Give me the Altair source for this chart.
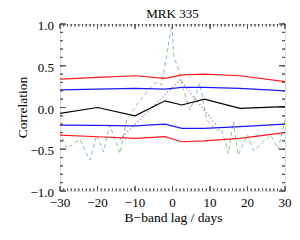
import altair as alt
import pandas as pd

# ---- data ----
env_lags = [-30, -20, -10, -2, 2.5, 8.5, 18, 30]
red_upper = [0.34, 0.36, 0.38, 0.35, 0.39, 0.40, 0.38, 0.31]
blue_upper = [0.21, 0.22, 0.23, 0.22, 0.24, 0.24, 0.23, 0.20]
blue_lower = [-0.21, -0.215, -0.22, -0.20, -0.25, -0.25, -0.23, -0.20]
red_lower = [-0.33, -0.35, -0.37, -0.35, -0.41, -0.40, -0.37, -0.30]
black_ccf = [-0.07, 0.0, -0.10, 0.08, 0.03, 0.10, -0.01, 0.01]

green_lags = [-30, -28.2, -24.7, -22, -20.2, -18.4, -16.7, -14, -12.2, -9.1,
              -6.4, -4.5, -2.9, -0.2, 0.4, 1.5, 2.9, 4.7, 7.3, 9.1,
              11.8, 13, 14.9, 16.2, 17.5, 20, 21.7, 26.2, 28.2, 30]
green_vals = [-0.29, -0.49, -0.38, -0.63, -0.33, -0.53, -0.21, -0.55, -0.15, 0.06,
              0.21, 0.30, 0.27, 0.99, 0.60, 0.47, 0.21, -0.03, 0.29, -0.15,
              -0.28, -0.25, -0.55, -0.17, -0.57, -0.33, -0.52, -0.33, -0.50, -0.15]

purple_lags = [-14, 2, 11.5]
purple_vals = [-0.38, 0.33, -0.20]

x_major = [-30, -20, -10, 0, 10, 20, 30]
x_minor = list(range(-30, 31))
y_major = [-1.0, -0.5, 0.0, 0.5, 1.0]
y_minor = [round(-1 + 0.1 * i, 1) for i in range(21)]

title_text = "MRK 335"
x_title = "B\u2212band lag / days"
y_title = "Correlation"

W, H = 225, 167
FONT = "Liberation Serif"
AX = "#555555"

xs = alt.Scale(domain=[-30, 30], nice=False, zero=False)
ys = alt.Scale(domain=[-1, 1], nice=False, zero=False)


def df(lags, vals):
    return pd.DataFrame({"lag": lags, "val": vals})


series = [
    (df(green_lags, green_vals), "#8fc48f", 1.0, [4, 3]),
    (df(purple_lags, purple_vals), "#b050c8", 1.3, [1, 2.5]),
    (df(env_lags, red_upper), "#ff1a1a", 1.2, None),
    (df(env_lags, red_lower), "#ff1a1a", 1.2, None),
    (df(env_lags, blue_upper), "#1a1aff", 1.2, None),
    (df(env_lags, blue_lower), "#1a1aff", 1.2, None),
    (df(env_lags, black_ccf), "#000000", 1.2, None),
]

layers = []
for d, color, w, dash in series:
    mark_kw = dict(color=color, strokeWidth=w, clip=True)
    if dash:
        mark_kw["strokeDash"] = dash
    layers.append(
        alt.Chart(d).mark_line(**mark_kw).encode(
            x=alt.X("lag:Q", scale=xs, axis=None),
            y=alt.Y("val:Q", scale=ys, axis=None),
        )
    )

xmaj = pd.DataFrame({"v": x_major})
xmin = pd.DataFrame({"v": x_minor})
ymaj = pd.DataFrame({"v": y_major})
ymin = pd.DataFrame({"v": y_minor})

# inward IDL-style ticks on all four sides (rules, placed through the scales)
tick_rule = dict(color=AX, strokeWidth=1, opacity=1)
for tdf, ln in [(xmaj, 5), (xmin, 2.5)]:
    layers.append(alt.Chart(tdf).mark_rule(**tick_rule).encode(
        x=alt.X("v:Q", scale=xs, axis=None),
        y=alt.value(H), y2=alt.value(H - ln)))
    layers.append(alt.Chart(tdf).mark_rule(**tick_rule).encode(
        x=alt.X("v:Q", scale=xs, axis=None),
        y=alt.value(0), y2=alt.value(ln)))
for tdf, ln in [(ymaj, 6), (ymin, 3)]:
    layers.append(alt.Chart(tdf).mark_rule(**tick_rule).encode(
        y=alt.Y("v:Q", scale=ys, axis=None),
        x=alt.value(0), x2=alt.value(ln)))
    layers.append(alt.Chart(tdf).mark_rule(**tick_rule).encode(
        y=alt.Y("v:Q", scale=ys, axis=None),
        x=alt.value(W), x2=alt.value(W - ln)))

# the same ticks again as stroked path symbols anchored on the frame edges
def tick_pts(tdf, horizontal, edge, path, size):
    mk = alt.Chart(tdf).mark_point(shape=path, size=size, filled=False,
                                   color=AX, strokeWidth=1, opacity=1)
    if horizontal:
        return mk.encode(x=alt.X("v:Q", scale=xs, axis=None),
                         y=alt.YDatum(edge, scale=ys, axis=None))
    return mk.encode(y=alt.Y("v:Q", scale=ys, axis=None),
                     x=alt.XDatum(edge, scale=xs, axis=None))


for tdf, sz in [(xmaj, 100), (xmin, 25)]:
    layers.append(tick_pts(tdf, True, -1.0, "M0,0L0,-1", sz))
    layers.append(tick_pts(tdf, True, 1.0, "M0,0L0,1", sz))
for tdf, sz in [(ymaj, 144), (ymin, 36)]:
    layers.append(tick_pts(tdf, False, -30, "M0,0L1,0", sz))
    layers.append(tick_pts(tdf, False, 30, "M0,0L-1,0", sz))

# tick labels placed through the scales
layers.append(alt.Chart(xmaj).mark_text(
    font=FONT, fontSize=13, color="black", align="center", baseline="alphabetic"
).encode(
    x=alt.X("v:Q", scale=xs, axis=None),
    y=alt.value(H + 16),
    text=alt.Text("v:Q", format="d"),
))
layers.append(alt.Chart(ymaj).mark_text(
    font=FONT, fontSize=13, color="black", align="right", baseline="middle", dy=2
).encode(
    y=alt.Y("v:Q", scale=ys, axis=None),
    x=alt.value(-6),
    text=alt.Text("v:Q", format=".1f"),
))

# titles
layers.append(alt.Chart(pd.DataFrame({"t": [title_text]})).mark_text(
    font=FONT, fontSize=13, color="black", align="center", baseline="alphabetic"
).encode(x=alt.value(W / 2), y=alt.value(-6), text="t:N"))
layers.append(alt.Chart(pd.DataFrame({"t": [x_title]})).mark_text(
    font=FONT, fontSize=13.5, color="black", align="center", baseline="alphabetic"
).encode(x=alt.value(W / 2 + 1), y=alt.value(H + 31), text="t:N"))
layers.append(alt.Chart(pd.DataFrame({"t": [y_title]})).mark_text(
    font=FONT, fontSize=13.5, color="black", align="center", baseline="alphabetic",
    angle=270
).encode(x=alt.value(-33), y=alt.value(H / 2), text="t:N"))

chart = (
    alt.layer(*layers)
    .properties(
        width=W, height=H,
        autosize=alt.AutoSizeParams(type="none"),
        padding={"left": 52, "top": 16, "right": 7, "bottom": 41},
    )
    .configure_view(stroke=AX, strokeWidth=1.2)
    .configure(background="white")
)

chart.save("out.html", embed_options={"renderer": "svg", "actions": False})
